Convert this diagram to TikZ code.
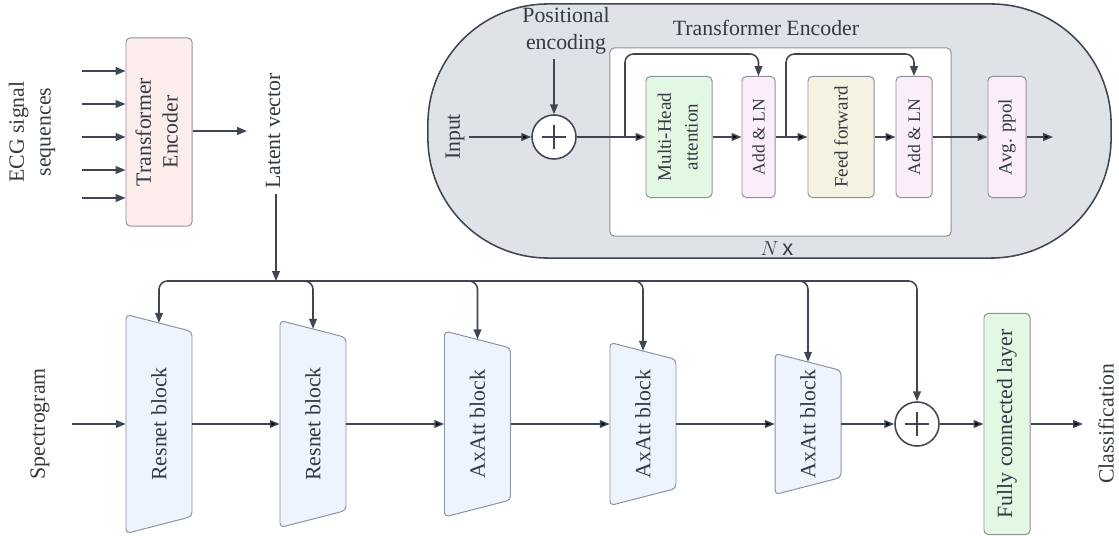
\documentclass[tikz,border=0pt]{standalone}
\usepackage{fontspec}
\setmainfont{Liberation Serif}
\setsansfont{Liberation Sans}
\usetikzlibrary{arrows.meta, positioning}
\definecolor{linecol}{HTML}{3F4652}
\definecolor{boxcol}{HTML}{8C929C}
\definecolor{textcol}{HTML}{333A43}
\definecolor{pillfill}{HTML}{DFE2E6}
\definecolor{pinkfill}{HTML}{FDEDED}
\definecolor{greenfill}{HTML}{E3F8E2}
\definecolor{mauvefill}{HTML}{FCEDFB}
\definecolor{beigefill}{HTML}{F5F2E1}
\definecolor{bluefill}{HTML}{EDF4FE}
\newcommand{\mainsize}{\fontsize{15.5}{19}\selectfont}
\newcommand{\boxsize}{\fontsize{13.5}{19}\selectfont}
\tikzset{
>={Triangle[length=7pt, width=5.5pt]}, % filled triangle heads
link/.style={->, draw=linecol, line width=1.1pt}, % every connector
txt/.style={text=textcol, font=\mainsize}, % free labels
box/.style={draw=boxcol, line width=0.7pt, rounded corners=3pt, inner sep=0pt, text=textcol, font=\mainsize}, % plain boxes
unit/.style={box, minimum height=3.025cm, font=\boxsize}, % boxes of the encoder layer
blockline/.style={draw=boxcol, fill=bluefill, line width=0.7pt, rounded corners=3pt}, % trapezoid outline
trap/.style={minimum width=1.65cm, inner sep=0pt, text=textcol, font=\mainsize}, % trapezoid text holder
adder/.style={circle, draw=linecol, line width=1.1pt, fill=white, minimum size=1.1cm, inner sep=0pt,
  path picture={\draw[linecol, line width=1.3pt]
    ([yshift=-7pt]path picture bounding box.north) -- ([yshift=7pt]path picture bounding box.south)
    ([xshift=7pt]path picture bounding box.west) -- ([xshift=-7pt]path picture bounding box.east);}},
}
% name, x centre, height (px), text
\newcommand{\trapblock}[4]{%
  \draw[blockline] ({#2-33},{424-#3/2}) -- ({#2+33},{424-#3/2+17}) -- ({#2+33},{424+#3/2-17}) -- ({#2-33},{424+#3/2}) -- cycle;
  \node[trap, minimum height=#3*0.025cm] (#1) at (#2,424) {\rotatebox{90}{#4}};
  \coordinate (#1top) at ([yshift=-0.2125cm]#1.north);
}

\begin{document}
\begin{tikzpicture}[x=0.025cm, y=-0.025cm]
\useasboundingbox (0,0) rectangle (1119,536);

% ECG branch
\node[txt, rotate=90, align=center] (ecg) at (32,132) {ECG signal\\sequences};
\node[box, fill=pinkfill, minimum width=1.65cm, minimum height=4.7cm] (tenc) at (159,132)
  {\rotatebox{90}{\begin{tabular}{@{}c@{}}Transformer\\Encoder\end{tabular}}};
\foreach \y [count=\i] in {71,104,137,170,198} {
  \coordinate (in\i) at (82,\y);
  \draw[link] (in\i) -- (in\i -| tenc.west);
}
\coordinate (latin) at (247,131);
\draw[link] (tenc.east |- latin) -- (latin);
\node[txt, rotate=90] (lat) at (273,131) {Latent vector};

% transformer encoder detail
\node[draw=linecol, line width=1.1pt, fill=pillfill, rounded corners=3cm,
  minimum width=17.075cm, minimum height=6.35cm] (encoder) at (769.5,131) {};
\node[txt] (tetitle) at (766,28) {Transformer Encoder};
\node[draw=boxcol, line width=0.7pt, fill=white, rounded corners=3pt,
  minimum width=8.525cm, minimum height=4.7cm] (layer) at (780.5,142) {};
\node[txt] (rep) at (777,249) {$N$\,\textsf{x}};
\node[txt, rotate=90] (inp) at (455,137) {Input};
\node[txt, align=center] (posenc) at (566,31) {Positional\\encoding};
\node[adder] (pe) at (554,137) {};
\node[unit, fill=greenfill, minimum width=1.65cm] (mha) at (679,137)
  {\rotatebox{90}{\begin{tabular}{@{}c@{}}Multi-Head\\attention\end{tabular}}};
\node[unit, fill=mauvefill, minimum width=0.825cm, font=\fontsize{12.5}{15}\selectfont] (addln1) at (758.5,137) {\rotatebox{90}{Add \& LN}};
\node[unit, fill=beigefill, minimum width=1.65cm] (ff) at (841,137) {\rotatebox{90}{Feed forward}};
\node[unit, fill=mauvefill, minimum width=0.9cm, font=\fontsize{12.5}{15}\selectfont] (addln2) at (914,137) {\rotatebox{90}{Add \& LN}};
\node[unit, fill=mauvefill, minimum width=0.95cm] (avg) at (1007,137) {\rotatebox{90}{Avg. ppol}};
\coordinate (br1) at (625,137);
\coordinate (br2) at (786,137);
\coordinate (hop1) at (700,54);
\coordinate (hop2) at (850,54);
\coordinate (encout) at (1053,137);
\draw[link] (posenc.south -| pe) -- (pe);
\draw[link]
  (inp) edge (pe)
  (pe) edge (mha)
  (mha) edge (addln1)
  (addln1) edge (ff)
  (ff) edge (addln2)
  (addln2) edge (avg)
  (avg) edge (encout);
\draw[link, rounded corners=6pt] (br1) |- (hop1) -| (addln1.north);
\draw[link, rounded corners=6pt] (br2) |- (hop2) -| (addln2.north);

% spectrogram branch
\node[txt, rotate=90] (spec) at (40,424) {Spectrogram};
\coordinate (specin) at (72,424);
\trapblock{res1}{159}{219}{Resnet block}
\trapblock{res2}{313}{207}{Resnet block}
\trapblock{ax1}{477.5}{186}{AxAtt block}
\trapblock{ax2}{643}{163}{AxAtt block}
\trapblock{ax3}{808}{141}{AxAtt block}
\node[adder] (sum) at (917,424) {};
\node[box, fill=greenfill, minimum width=1.15cm, minimum height=5.525cm] (fc) at (1007,424)
  {\rotatebox{90}{Fully connected layer}};
\node[txt, rotate=90] (cls) at (1106,424) {Classification};
\coordinate (clsout) at (1083,424);
\draw[link] (specin) -- (res1);
\draw[link]
  (res1) edge (res2)
  (res2) edge (ax1)
  (ax1) edge (ax2)
  (ax2) edge (ax3)
  (ax3) edge (sum)
  (sum) edge (fc)
  (fc) edge (clsout);

% latent vector bus
\coordinate (bus) at (276,281);
\draw[link] (lat.west -| bus) -- (bus);
\foreach \t in {res1top, res2top, ax1top, ax2top, ax3top, sum}
  \draw[link, rounded corners=6pt] (bus) -| (\t);
\end{tikzpicture}
\end{document}
